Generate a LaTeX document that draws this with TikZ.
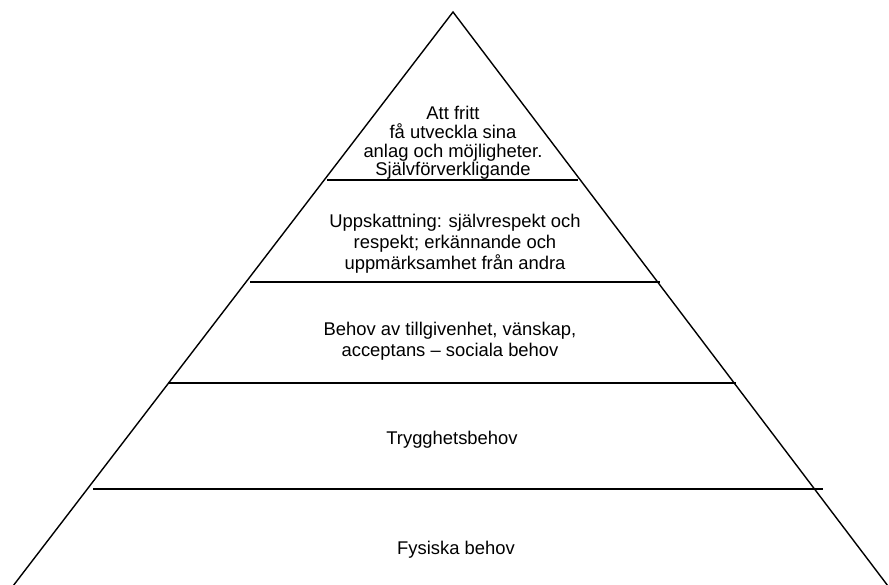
\documentclass[tikz,border=0pt]{standalone}
\usepackage{fontspec}
\setmainfont{Liberation Sans}
\begin{document}
\begin{tikzpicture}[x=1pt,y=-1pt,
  edge/.style={line width=1.4pt,black},
  tier/.style={align=center,inner sep=0pt,font=\fontsize{18.4}{21}\selectfont},
  toptier/.style={align=center,inner sep=0pt,font=\fontsize{18.4}{18.8}\selectfont}]
\useasboundingbox (0,0) rectangle (889,585);
\coordinate (apex) at (453,12);
\coordinate (bl) at (13,586);
\coordinate (br) at (888,586);
\draw[edge] (bl) -- (apex) -- (br);
\coordinate (l1a) at (327,180); \coordinate (l1b) at (578,180);
\coordinate (l2a) at (250,282); \coordinate (l2b) at (660,282);
\coordinate (l3a) at (168,383); \coordinate (l3b) at (736,383);
\coordinate (l4a) at (93,489);  \coordinate (l4b) at (823,489);
\draw[edge] (l1a) -- (l1b);
\draw[edge] (l2a) -- (l2b);
\draw[edge] (l3a) -- (l3b);
\draw[edge] (l4a) -- (l4b);
\node[toptier] (t1) at (453,143) {Att fritt\\få utveckla sina\\anlag och möjligheter.\\Självförverkligande};
\node[tier] (t2) at (455,244) {Uppskattning: självrespekt och\\respekt; erkännande och\\uppmärksamhet från andra};
\node[tier] (t3) at (450,341) {Behov av tillgivenhet, vänskap,\\acceptans – sociala behov};
\node[tier] (t4) at (452,440) {Trygghetsbehov};
\node[tier] (t5) at (456,550) {Fysiska behov};
\end{tikzpicture}
\end{document}
